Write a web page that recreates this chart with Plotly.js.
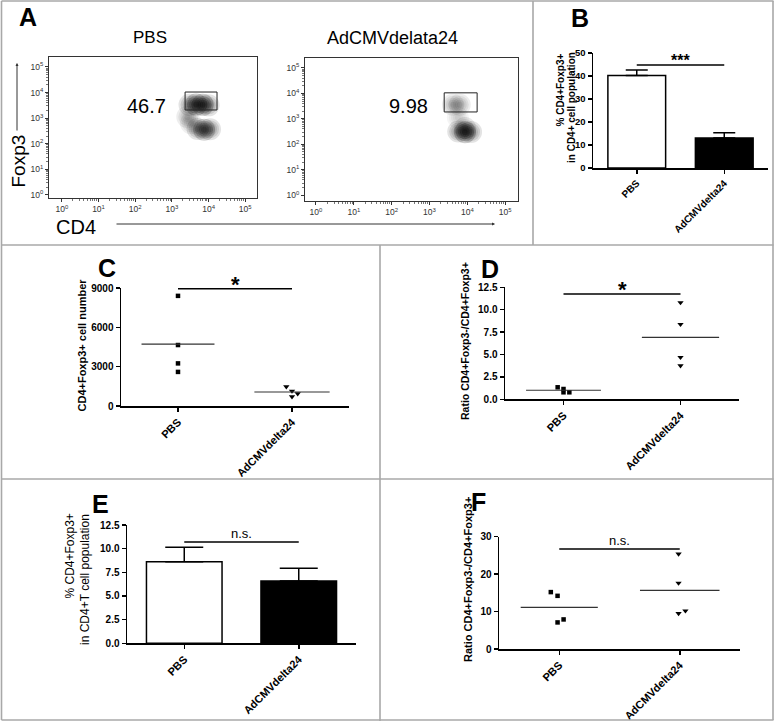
<!DOCTYPE html>
<html><head><meta charset="utf-8">
<script src="https://cdn.plot.ly/plotly-3.0.1.min.js"></script>
<style>html,body{margin:0;padding:0;background:#fff;}#chart{width:775px;height:721px;}</style>
</head><body><div id="chart"></div>
<script>
// ================= DATA =================
const groups = ['PBS', 'AdCMVdelta24'];
const flowTitles = ['PBS', 'AdCMVdelata24'];
const decadeVals = [1, 10, 100, 1000, 10000, 100000];
const decadeText = ['10<sup>0</sup>', '10<sup>1</sup>', '10<sup>2</sup>', '10<sup>3</sup>', '10<sup>4</sup>', '10<sup>5</sup>'];

// Panel A: gate (CD4 x Foxp3) and gated percentages
const gatePct = ['46.7', '9.98'];
const gatePbsX = [2290, 17000];
const gatePbsY = [2090, 10500];
const gateAdX = [2450, 18200];
const gateAdY = [1860, 10500];
// Panel A: density sub-populations (log10 CD4, log10 Foxp3, relative density)
const densPbsX = [3.48, 3.66, 3.84, 4.00, 3.70, 3.88, 4.04, 3.42, 3.52];
const densPbsY = [3.52, 3.53, 3.52, 3.50, 2.58, 2.55, 2.57, 3.05, 2.80];
const densPbsD = [0.55, 1.00, 1.00, 0.55, 0.55, 0.85, 0.55, 0.35, 0.30];
const densAdX = [3.62, 3.80, 3.75, 3.76, 3.94, 4.10, 3.94];
const densAdY = [3.55, 3.55, 3.05, 2.50, 2.47, 2.48, 2.64];
const densAdD = [0.35, 0.35, 0.22, 0.55, 1.00, 0.55, 0.45];

// Panel B: % CD4+Foxp3+ in CD4+ (mean, SEM)
const bMean = [40.2, 13.0];
const bSem = [2.4, 2.3];
const bSig = 44.8, bSigText = '***';

// Panel C: CD4+Foxp3+ cell number
const cPbs = [8400, 4650, 3250, 2600];
const cAd = [1475, 1140, 940, 710];
const cPbsJit = [0, 0, 0, 0];
const cAdJit = [-0.05, 0, 0.05, 0];
const cSig = 8950, cSigText = '*';

// Panel D: ratio Foxp3-/Foxp3+
const dPbs = [1.34, 1.15, 0.78, 0.78];
const dAd = [10.8, 8.37, 4.69, 3.75];
const dPbsJit = [-0.05, 0, 0, 0.05];
const dAdJit = [0, 0, 0, 0];
const dSig = 11.75, dSigText = '*';

// Panel E: % CD4+Foxp3+ in CD4+T (mean, SEM)
const eMean = [8.62, 6.58];
const eSem = [1.52, 1.34];
const eSig = 10.7, eSigText = 'n.s.';

// Panel F: ratio Foxp3-/Foxp3+
const fPbs = [15.2, 14.2, 7.9, 7.1];
const fAd = [25.4, 17.6, 10.2, 9.5];
const fPbsJit = [-0.07, -0.014, 0.036, -0.014];
const fAdJit = [-0.01, -0.01, 0.047, -0.01];
const fSig = 26.7, fSigText = 'n.s.';

// ================= HELPERS =================
const W = 775, H = 721;
const px = v => v / W;
const py = v => 1 - v / H;
const FONT = 'Liberation Sans, Arial, sans-serif';
const mean = a => a.reduce((s, v) => s + v, 0) / a.length;

const minorVals = [];
for (let e = 0; e < 5; e++) for (let k = 2; k < 10; k++) minorVals.push(k * Math.pow(10, e));

const traces = [];
const RINGS = [22, 18, 14, 10, 6];   // marker diameters (px) of soft density rings

function flowTraces(n, densX, densY, densD, gx, gy) {
  const xa = n === 1 ? 'x' : 'x' + n, ya = n === 1 ? 'y' : 'y' + n;
  RINGS.forEach(sz => {
    traces.push({
      type: 'scatter', mode: 'markers', xaxis: xa, yaxis: ya,
      x: densX.map(v => Math.pow(10, v)), y: densY.map(v => Math.pow(10, v)),
      marker: {size: sz, color: densD.map(d => 'rgba(0,0,0,' + (0.2 * d).toFixed(3) + ')'), line: {width: 0}},
      hoverinfo: 'skip'
    });
  });
  traces.push({
    type: 'scatter', mode: 'lines', xaxis: xa, yaxis: ya,
    x: [gx[0], gx[1], gx[1], gx[0], gx[0]],
    y: [gy[0], gy[0], gy[1], gy[1], gy[0]],
    line: {color: '#222', width: 1}, hoverinfo: 'skip'
  });
}
flowTraces(1, densPbsX, densPbsY, densPbsD, gatePbsX, gatePbsY);
flowTraces(2, densAdX, densAdY, densAdD, gateAdX, gateAdY);

function barTraces(n, means, sems, sig, capW) {
  traces.push({
    type: 'bar', xaxis: 'x' + n, yaxis: 'y' + n,
    x: [0, 1], y: means, width: 0.66,
    marker: {color: ['#fff', '#000'], line: {color: '#000', width: 1.5}},
    error_y: {type: 'data', symmetric: false, array: sems, arrayminus: [0, 0],
              color: '#000', thickness: 1.5, width: capW},
    hoverinfo: 'skip'
  });
  traces.push({type: 'scatter', mode: 'lines', xaxis: 'x' + n, yaxis: 'y' + n,
    x: [0, 1], y: [sig, sig], line: {color: '#000', width: 1.5}, hoverinfo: 'skip'});
}
barTraces(3, bMean, bSem, bSig, 11);
barTraces(6, eMean, eSem, eSig, 19);

function dotTraces(n, pbs, pbsJit, ad, adJit, sig) {
  const xa = 'x' + n, ya = 'y' + n;
  traces.push({type: 'scatter', mode: 'markers', xaxis: xa, yaxis: ya,
    x: pbs.map((_, i) => 0 + pbsJit[i]), y: pbs,
    marker: {symbol: 'square', size: 4.5, color: '#000'}, cliponaxis: false, hoverinfo: 'skip'});
  traces.push({type: 'scatter', mode: 'markers', xaxis: xa, yaxis: ya,
    x: ad.map((_, i) => 1 + adJit[i]), y: ad,
    marker: {symbol: 'triangle-down', size: 5.5, color: '#000'}, cliponaxis: false, hoverinfo: 'skip'});
  const mp = mean(pbs), ma = mean(ad);
  traces.push({type: 'scatter', mode: 'lines', xaxis: xa, yaxis: ya,
    x: [-0.32, 0.32], y: [mp, mp], line: {color: '#333', width: 1.2}, hoverinfo: 'skip'});
  traces.push({type: 'scatter', mode: 'lines', xaxis: xa, yaxis: ya,
    x: [0.67, 1.33], y: [ma, ma], line: {color: '#333', width: 1.2}, hoverinfo: 'skip'});
  traces.push({type: 'scatter', mode: 'lines', xaxis: xa, yaxis: ya,
    x: [0, 1], y: [sig, sig], line: {color: '#000', width: 1.5}, hoverinfo: 'skip'});
}
dotTraces(4, cPbs, cPbsJit, cAd, cAdJit, cSig);
dotTraces(5, dPbs, dPbsJit, dAd, dAdJit, dSig);
dotTraces(7, fPbs, fPbsJit, fAd, fAdJit, fSig);

// ================= AXES =================
function flowAxis(domain, range, anchor) {
  return {
    domain, range, anchor, type: 'log',
    tickmode: 'array', tickvals: decadeVals, ticktext: decadeText,
    tickfont: {family: FONT, size: 8.5, color: '#333'},
    ticks: 'outside', ticklen: 3, tickwidth: 1, tickcolor: '#333',
    minor: {tickmode: 'array', tickvals: minorVals, ticks: 'outside', ticklen: 2, tickwidth: 0.8, tickcolor: '#555'},
    showline: true, mirror: true, linecolor: '#333', linewidth: 1,
    showgrid: false, zeroline: false, fixedrange: true
  };
}
function catAxis(domain, anchor, fs) {
  return {
    domain, anchor, range: [-0.5, 1.5],
    tickmode: 'array', tickvals: [0, 1], ticktext: groups, tickangle: -45,
    tickfont: {family: FONT, size: fs, color: '#000', weight: 'bold'},
    ticks: 'outside', ticklen: 4, tickwidth: 1.5, tickcolor: '#000',
    showline: true, linecolor: '#000', linewidth: 1.5,
    showgrid: false, zeroline: false, fixedrange: true
  };
}
function valAxis(domain, anchor, range, tickvals, fmt, fs) {
  return {
    domain, anchor, range,
    tickmode: 'array', tickvals, tickformat: fmt,
    tickfont: {family: FONT, size: fs, color: '#000', weight: 'bold'},
    ticks: 'outside', ticklen: 4, tickwidth: 1.5, tickcolor: '#000',
    showline: true, linecolor: '#000', linewidth: 1.5,
    showgrid: false, zeroline: false, fixedrange: true
  };
}

const layout = {
  width: W, height: H, margin: {l: 0, r: 0, t: 0, b: 0},
  paper_bgcolor: '#fff', plot_bgcolor: '#fff', showlegend: false,
  font: {family: FONT},
  xaxis: flowAxis([px(49), px(257)], [-0.35, 5.32], 'y'),
  yaxis: flowAxis([py(198), py(57)], [-0.12, 5.39], 'x'),
  xaxis2: flowAxis([px(305), px(518)], [-0.29, 5.34], 'y2'),
  yaxis2: flowAxis([py(201), py(58)], [-0.23, 5.39], 'x2'),
  xaxis3: catAxis([px(593), px(768)], 'y3', 10),
  yaxis3: valAxis([py(168), py(53)], 'x3', [0, 50], [0, 10, 20, 30, 40, 50], 'd', 9.5),
  xaxis4: catAxis([px(121), px(349)], 'y4', 11),
  yaxis4: valAxis([py(406), py(288)], 'x4', [0, 9000], [0, 3000, 6000, 9000], 'd', 10),
  xaxis5: catAxis([px(505), px(739)], 'y5', 11),
  yaxis5: valAxis([py(399.3), py(287.3)], 'x5', [0, 12.5], [0, 2.5, 5, 7.5, 10, 12.5], '.1f', 10),
  xaxis6: catAxis([px(127), px(356)], 'y6', 11),
  yaxis6: valAxis([py(643.3), py(525)], 'x6', [0, 12.5], [0, 2.5, 5, 7.5, 10, 12.5], '.1f', 10),
  xaxis7: catAxis([px(499), px(740)], 'y7', 11),
  yaxis7: valAxis([py(649), py(536.7)], 'x7', [0, 30], [0, 10, 20, 30], 'd', 10),
  shapes: [],
  annotations: []
};

// panel borders
const G = '#a8a8a8';
function pline(x0, y0, x1, y1) {
  layout.shapes.push({type: 'line', xref: 'paper', yref: 'paper',
    x0: px(x0), y0: py(y0), x1: px(x1), y1: py(y1), line: {color: G, width: 1.6}});
}
pline(1.5, 1, 773.5, 1); pline(1.5, 720, 773.5, 720);
pline(1.5, 1, 1.5, 720); pline(773, 1, 773, 720);
pline(1.5, 245, 773.5, 245); pline(1.5, 479, 773.5, 479);
pline(533, 1, 533, 245); pline(380, 245, 380, 721);

function ann(text, x, y, size, opts) {
  layout.annotations.push(Object.assign({
    text, x: px(x), y: py(y), xref: 'paper', yref: 'paper', showarrow: false,
    xanchor: 'center', yanchor: 'middle',
    font: {family: FONT, size, color: '#000'}
  }, opts || {}));
}
// panel letters
[['A', 27.5, 17.5], ['B', 580, 18.5], ['C', 106.5, 267.5], ['D', 490, 268.5], ['E', 100, 503.5], ['F', 478, 501.5]]
  .forEach(([t, x, y]) => ann('<b>' + t + '</b>', x, y, 25));

// Panel A texts
ann(flowTitles[0], 150, 37.5, 17);
ann(flowTitles[1], 392.5, 38.5, 18);
ann(gatePct[0], 146.5, 106, 20);
ann(gatePct[1], 408, 106, 20);
ann('Foxp3', 17.5, 161, 19, {textangle: -90});
ann('CD4', 75.5, 227, 20);
// axis arrows
layout.annotations.push({x: px(17), y: py(63), xref: 'paper', yref: 'paper', text: '',
  showarrow: true, ax: 0, ay: 69, arrowhead: 2, arrowsize: 0.6, arrowwidth: 1, arrowcolor: '#333'});
layout.annotations.push({x: px(495), y: py(224), xref: 'paper', yref: 'paper', text: '',
  showarrow: true, ax: -380, ay: 0, arrowhead: 2, arrowsize: 0.6, arrowwidth: 1, arrowcolor: '#333'});

// y-axis titles
ann('<b>% CD4+Foxp3+</b>', 560, 90.5, 10, {textangle: -90});
ann('<b>in CD4+ cell population</b>', 572, 108, 10, {textangle: -90});
ann('<b>CD4+Foxp3+ cell number</b>', 81.5, 345, 11, {textangle: -90});
ann('<b>Ratio CD4+Foxp3-/CD4+Foxp3+</b>', 465, 341, 10.5, {textangle: -90});
ann('% CD4+Foxp3+', 69, 556.5, 12, {textangle: -90});
ann('in CD4+T cell population', 85, 580, 12, {textangle: -90});
ann('<b>Ratio CD4+Foxp3-/CD4+Foxp3+</b>', 468, 580, 11, {textangle: -90});

// significance labels
function sigAnn(n, y, text, size, shift) {
  layout.annotations.push({text, x: 0.5, y, xref: 'x' + n, yref: 'y' + n, showarrow: false,
    xanchor: 'center', yanchor: 'bottom', yshift: shift,
    font: {family: FONT, size, color: '#000'}});
}
sigAnn(3, bSig, '<b>' + bSigText + '</b>', 16, -6);
sigAnn(4, cSig, '<b>' + cSigText + '</b>', 22, -10);
sigAnn(5, dSig, '<b>' + dSigText + '</b>', 22, -10);
sigAnn(6, eSig, eSigText, 13, -1);
sigAnn(7, fSig, fSigText, 13, -1);

Plotly.newPlot('chart', traces, layout, {staticPlot: true, displayModeBar: false});
</script></body></html>
